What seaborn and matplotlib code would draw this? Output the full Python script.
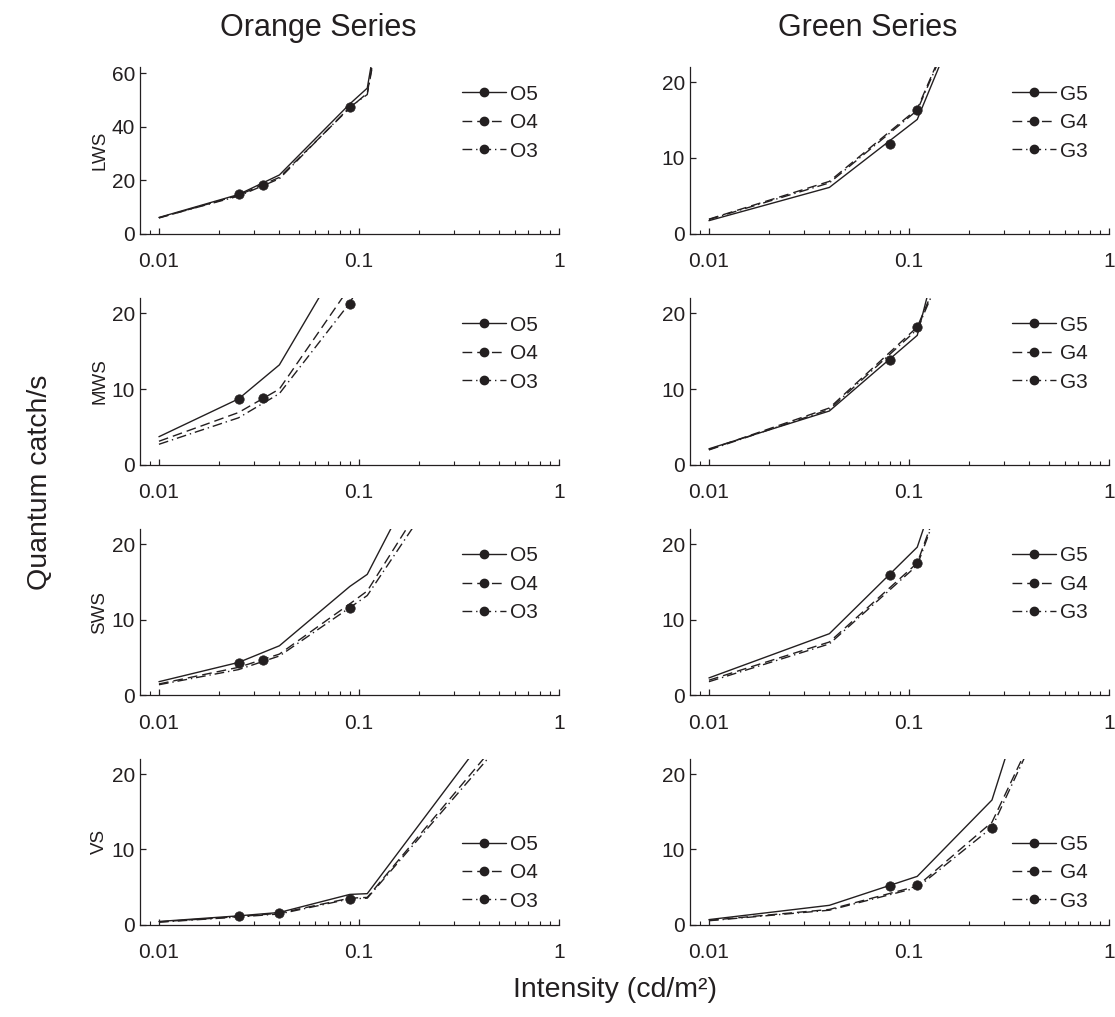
import matplotlib
matplotlib.use("Agg")
import matplotlib.pyplot as plt
import numpy as np
import pandas as pd
import seaborn as sns
from matplotlib.lines import Line2D
from matplotlib.ticker import NullFormatter, FixedLocator, FixedFormatter, LogLocator

# ---- stimulus intensities (cd/m^2) -------------------------------------
orange_x = [0.01, 0.025, 0.04, 0.09, 0.11, 1.0]
green_x = [0.01, 0.04, 0.11, 0.26, 1.0]

receptors = ["LWS", "MWS", "SWS", "VS"]
orange_labels = ["O5", "O4", "O3"]
green_labels = ["G5", "G4", "G3"]

# ---- quantum catch per receptor, orange series --------------------------
lws_orange = [[6.0, 14.6, 21.9, 48.5, 54.4, 470],
              [5.8, 14.3, 21.0, 47.0, 52.5, 455],
              [5.9, 14.0, 20.5, 47.3, 52.0, 450]]
mws_orange = [[3.7, 8.7, 13.2, 29.0, 35.0, 330],
              [3.1, 6.9, 10.0, 23.5, 28.0, 260],
              [2.7, 6.2, 9.4, 21.4, 25.5, 240]]
sws_orange = [[1.8, 4.35, 6.55, 14.4, 16.0, 65],
              [1.5, 3.7, 5.45, 12.1, 13.8, 54],
              [1.4, 3.4, 5.2, 11.6, 13.2, 51]]
vs_orange = [[0.4, 1.15, 1.6, 4.0, 4.1, 38],
             [0.35, 1.05, 1.5, 3.5, 3.6, 34],
             [0.3, 1.0, 1.4, 3.4, 3.5, 33]]

# ---- quantum catch per receptor, green series ---------------------------
lws_green = [[1.7, 6.1, 15.1, 39.0, 77],
             [1.9, 6.9, 16.5, 39.4, 76],
             [1.85, 6.7, 16.3, 39.0, 75]]
mws_green = [[2.1, 7.1, 17.1, 55.7, 116],
             [2.0, 7.5, 18.2, 41.3, 78],
             [1.95, 7.3, 17.9, 41.0, 77]]
sws_green = [[2.3, 8.15, 19.6, 49.0, 95],
             [2.0, 7.05, 17.5, 44.8, 87],
             [1.8, 6.8, 17.2, 44.0, 86]]
vs_green = [[0.65, 2.55, 6.4, 16.55, 65.6],
            [0.55, 2.0, 5.1, 13.6, 46.4],
            [0.5, 1.9, 4.9, 12.9, 46.3]]

# ---- threshold points (intensity, catch) for each series -----------------
orange_thr_x = {"LWS": [0.025, 0.033, 0.09], "MWS": [0.025, 0.033, 0.09],
                "SWS": [0.025, 0.033, 0.09], "VS": [0.025, 0.04, 0.09]}
orange_thr_y = {"LWS": [14.6, 18.1, 47.5], "MWS": [8.7, 8.8, 21.3],
                "SWS": [4.3, 4.65, 11.55], "VS": [1.1, 1.5, 3.4]}
green_thr_x = {"LWS": [0.08, 0.11, 0.26], "MWS": [0.08, 0.11, 0.26],
               "SWS": [0.08, 0.11, 0.26], "VS": [0.08, 0.11, 0.26]}
green_thr_y = {"LWS": [11.9, 16.3, 39.0], "MWS": [13.8, 18.2, 41.0],
               "SWS": [15.9, 17.5, 44.0], "VS": [5.1, 5.2, 12.85]}

orange_data = {"LWS": lws_orange, "MWS": mws_orange, "SWS": sws_orange, "VS": vs_orange}
green_data = {"LWS": lws_green, "MWS": mws_green, "SWS": sws_green, "VS": vs_green}

# ---- styling --------------------------------------------------------------
sns.set_theme(style="ticks")
ink = "#231f20"
plt.rcParams["font.family"] = ["Liberation Sans", "DejaVu Sans"]
plt.rcParams["text.color"] = ink
plt.rcParams["axes.labelcolor"] = ink
plt.rcParams["xtick.color"] = ink
plt.rcParams["ytick.color"] = ink
plt.rcParams["axes.edgecolor"] = ink

dash_styles = [(), (7, 3.6), (7, 2.8, 1, 2.8)]

fig = plt.figure(figsize=(11.15, 10.17), dpi=100)
W, H = 1115.0, 1017.0
col_left = [140, 690]
col_width = 419
row_top = [67.3, 298.3, 529.0, 759.0]
row_bottom = [233.5, 464.7, 695.3, 924.5]


def draw_panel(ax, xs, series, labels, thr_x, thr_y, ylim, yticks, legend_low):
    rows = []
    for lab, vals in zip(labels, series):
        for x, v in zip(xs, vals):
            rows.append({"intensity": x, "catch": v, "stimulus": lab})
    df = pd.DataFrame(rows)
    dash_map = {lab: ("" if len(d) == 0 else d) for lab, d in zip(labels, dash_styles)}
    sns.lineplot(data=df, x="intensity", y="catch", style="stimulus",
                 dashes=dash_map, color=ink, linewidth=1.0, legend=False,
                 estimator=None, sort=False, ax=ax)
    sns.scatterplot(x=thr_x, y=thr_y, color=ink, s=46, edgecolor=ink,
                    linewidth=0.5, legend=False, ax=ax, zorder=5)
    ax.set_xscale("log")
    ax.set_xlim(0.00804, 1.0)
    ax.set_ylim(*ylim)
    ax.xaxis.set_major_locator(FixedLocator([0.01, 0.1, 1.0]))
    ax.xaxis.set_major_formatter(FixedFormatter(["0.01", "0.1", "1"]))
    ax.xaxis.set_minor_locator(LogLocator(base=10, subs=np.arange(2, 10)))
    ax.xaxis.set_minor_formatter(NullFormatter())
    ax.set_yticks(yticks)
    ax.set_yticklabels([str(t) for t in yticks])
    ax.tick_params(axis="both", which="major", direction="in", length=4.5,
                   width=0.9, labelsize=15)
    ax.tick_params(axis="x", which="major", pad=13.5)
    ax.tick_params(axis="y", which="major", pad=3.5)
    ax.tick_params(axis="x", which="minor", direction="in", length=2.8, width=0.8)
    for side in ("top", "right"):
        ax.spines[side].set_visible(False)
    for side in ("left", "bottom"):
        ax.spines[side].set_linewidth(0.9)
    ax.set_xlabel("")
    handles = []
    for d in dash_styles:
        h = Line2D([0], [0], color=ink, lw=1.0, marker="o", markersize=6)
        if len(d):
            h.set_dashes(d)
        else:
            h.set_linestyle("-")
        handles.append(h)
    common = dict(frameon=False, fontsize=15, handlelength=2.1,
                  handletextpad=0.18, labelspacing=0.45, borderpad=0,
                  borderaxespad=0, numpoints=1)
    if legend_low:
        ax.legend(handles, labels, loc="lower left",
                  bbox_to_anchor=(0.7685, 0.083), **common)
    else:
        ax.legend(handles, labels, loc="upper left",
                  bbox_to_anchor=(0.7685, 0.895), **common)


for r, rec in enumerate(receptors):
    bottom = 1 - row_bottom[r] / H
    height = (row_bottom[r] - row_top[r]) / H
    for c in range(2):
        ax = fig.add_axes([col_left[c] / W, bottom, col_width / W, height])
        if c == 0:
            ylim = (0, 62.2) if rec == "LWS" else (0, 22)
            yticks = [0, 20, 40, 60] if rec == "LWS" else [0, 10, 20]
            draw_panel(ax, orange_x, orange_data[rec], orange_labels,
                       orange_thr_x[rec], orange_thr_y[rec], ylim, yticks,
                       rec == "VS")
            ax.set_ylabel(rec, fontsize=13.5)
            ax.yaxis.set_label_coords(-0.076, 0.5)
        else:
            draw_panel(ax, green_x, green_data[rec], green_labels,
                       green_thr_x[rec], green_thr_y[rec], (0, 22), [0, 10, 20],
                       rec == "VS")
            ax.set_ylabel("")

fig.text(318 / W, 1 - 28 / H, "Orange Series", ha="center", va="center", fontsize=22)
fig.text(868 / W, 1 - 28 / H, "Green Series", ha="center", va="center", fontsize=22)
fig.text(40 / W, 1 - 482 / H, "Quantum catch/s", ha="center", va="center",
         rotation=90, fontsize=20.5)
fig.text(615 / W, 1 - 990 / H, "Intensity (cd/m²)", ha="center", va="center",
         fontsize=20.5)

fig.savefig("out.png", dpi=100, facecolor="white")
